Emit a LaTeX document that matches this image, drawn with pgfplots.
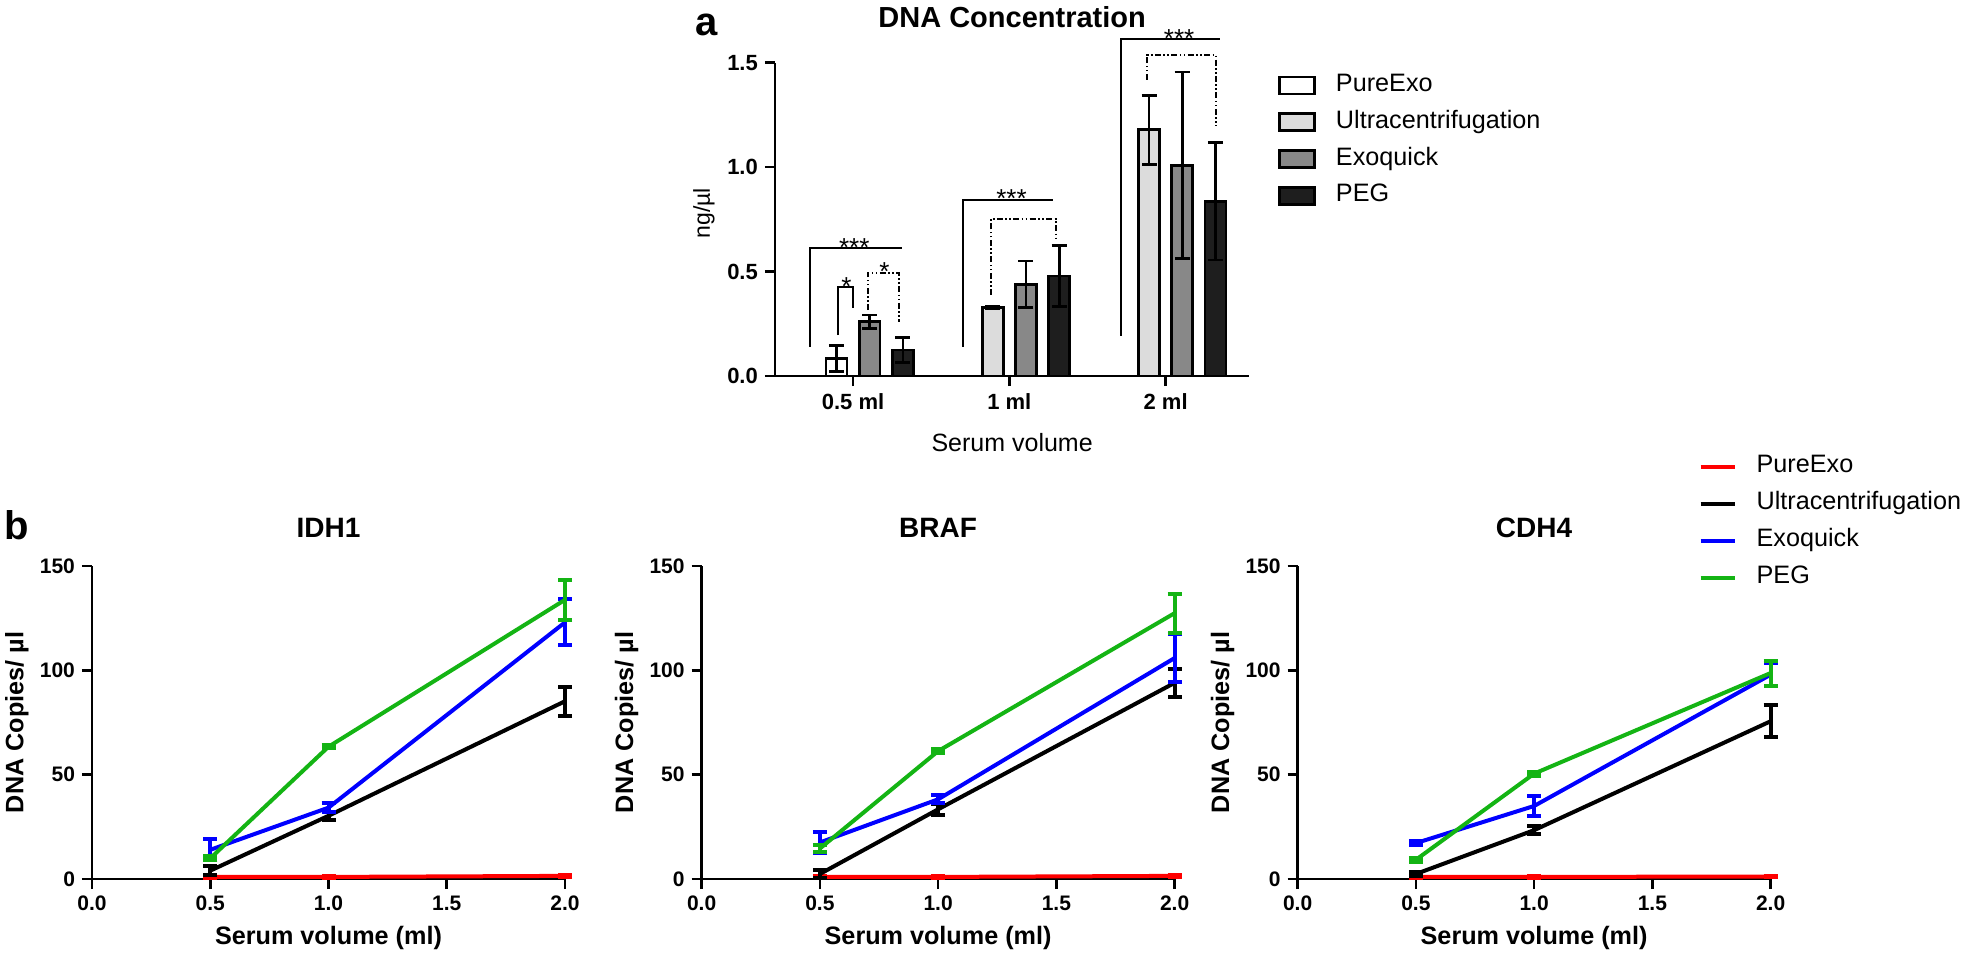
\documentclass[border=0pt]{standalone}
\usepackage{fontspec}
\setmainfont{Liberation Sans}
\usepackage{pgfplots}
\pgfplotsset{compat=1.18}

\definecolor{ucgray}{HTML}{DCDCDC}
\definecolor{exgray}{HTML}{888888}
\definecolor{pegblk}{HTML}{1E1E1E}
\definecolor{gpgreen}{RGB}{20,180,20}

\tikzset{
  star/.style={anchor=base, yshift=-4pt, inner sep=0pt, font=\fontsize{13}{13}\selectfont},
  dd/.style={line width=1pt, dash pattern=on 3pt off 1.2pt on 0.8pt off 1.2pt on 0.8pt off 1.2pt},
}

\pgfplotsset{
  gp/.style={
    scale only axis, clip=false,
    axis x line*=bottom, axis y line*=left,
    axis line style={line width=1.35pt},
    tick align=outside, major tick length=5pt,
    every tick/.style={line width=1.35pt, black},
    /pgf/number format/assume math mode=true,
  },
  bar/.style={ybar, bar shift=0pt, bar width=10.4pt, draw=black, fill=#1, line width=1.35pt,
    error bars/y dir=both, error bars/y explicit,
    error bars/error bar style={line width=1.35pt, black},
    error bars/error mark options={rotate=90, line width=1.35pt, mark size=3.75pt, black}},
  ln/.style={color=#1, line width=2pt, mark=none,
    error bars/y dir=both, error bars/y explicit,
    error bars/error bar style={line width=2pt, color=#1},
    error bars/error mark options={rotate=90, line width=2pt, mark size=3.5pt, color=#1}},
  bot/.style={gp, width=236.5pt, height=156.5pt,
    xmin=0, xmax=2, ymin=0, ymax=150,
    xtick={0,0.5,1,1.5,2}, ytick={0,50,100,150},
    x tick label style={/pgf/number format/.cd,fixed,fixed zerofill,precision=1,/tikz/.cd},
    tick label style={font=\fontsize{10.5}{12}\selectfont\bfseries},
    xlabel={Serum volume (ml)}, ylabel={DNA Copies/ µl},
    label style={font=\fontsize{12.6}{14}\selectfont\bfseries},
    title style={font=\fontsize{14}{16}\selectfont\bfseries, at={(axis description cs:0.5,1.083)}, anchor=center},
    xlabel style={at={(axis description cs:0.5,-0.1885)}, anchor=center},
    ylabel style={at={(axis description cs:-0.1586,0.5)}, anchor=center},
  },
}

\begin{document}
\begin{tikzpicture}
\useasboundingbox (0,0) rectangle (980.5pt,-477.5pt);

\node[font=\fontsize{20}{20}\selectfont\bfseries] at (353.35pt,-12.5pt) {a};
\node[font=\fontsize{20}{20}\selectfont\bfseries] at (8.5pt,-262.5pt) {b};

% panel a
\begin{axis}[gp, at={(387.45pt,-188pt)}, anchor=south west,
  width=237.25pt, height=156.65pt,
  xmin=-0.5, xmax=2.536, ymin=0, ymax=1.5,
  xtick={0,1,2}, xticklabels={0.5 ml,1 ml,2 ml},
  ytick={0,0.5,1,1.5},
  y tick label style={/pgf/number format/.cd,fixed,fixed zerofill,precision=1,/tikz/.cd},
  tick label style={font=\fontsize{11}{13}\selectfont\bfseries},
  title={DNA Concentration},
  title style={font=\fontsize{14.5}{16}\selectfont\bfseries, at={(axis description cs:0.5,1.1085)}, anchor=center},
  xlabel={Serum volume},
  xlabel style={font=\fontsize{12.5}{14}\selectfont, at={(axis description cs:0.5,-0.2139)}, anchor=center},
  ylabel={ng/µl},
  ylabel style={font=\fontsize{11.5}{13}\selectfont, at={(axis description cs:-0.1496,0.52)}, anchor=center},
  legend image code/.code={\draw[#1, line width=1.35pt] (0pt,-4.25pt) rectangle (17.5pt,4.25pt);},
  legend style={at={(axis description cs:1.060,0.967)}, anchor=north west, draw=none, fill=none,
    inner sep=0pt, row sep=6.4pt, column sep=10pt,
    font=\fontsize{12.6}{14}\selectfont,
    nodes={inner sep=0pt, text height=9pt, text depth=3pt}},
  legend cell align=left,
]
\addplot[bar=white] coordinates {(-0.106,0.083) +- (0,0.062)};
\addplot[bar=ucgray] coordinates {(0.894,0.329) +- (0,0.006) (1.894,1.179) +- (0,0.165)};
\addplot[bar=exgray] coordinates {(0.106,0.26) +- (0,0.032) (1.106,0.439) +- (0,0.112) (2.106,1.008) +- (0,0.447)};
\addplot[bar=pegblk] coordinates {(0.319,0.124) +- (0,0.06) (1.319,0.479) +- (0,0.146) (2.319,0.837) +- (0,0.281)};
\legend{PureExo,Ultracentrifugation,Exoquick,PEG}

% significance brackets
\draw[line width=1pt] (-0.278,0.141) |- (0.311,0.612);
\node[star] at (0.008,0.612) {***};
\draw[line width=1pt] (-0.099,0.196) |- (0.0025,0.425) -- (0.0025,0.324);
\node[star] at (-0.043,0.425) {*};
\draw[dd] (0.096,0.316) |- (0.293,0.495) -- (0.293,0.260);
\node[star] at (0.2,0.495) {*};
\draw[line width=1pt] (0.703,0.141) |- (1.277,0.843);
\node[star] at (1.014,0.843) {***};
\draw[dd] (0.885,0.388) |- (1.297,0.754) -- (1.297,0.660);
\draw[line width=1pt] (1.714,0.192) |- (2.346,1.613);
\node[star] at (2.086,1.613) {***};
\draw[dd] (1.881,1.419) |- (2.321,1.538) -- (2.321,1.198);
\end{axis}

% panel b: IDH1
\begin{axis}[bot, at={(46pt,-439.5pt)}, anchor=south west, title={IDH1}]
\addplot[ln=red] coordinates {(0.5,1.0) +- (0,0.3) (1,1.0) +- (0,0.3) (2,1.5) +- (0,0.5)};
\addplot[ln=black] coordinates {(0.5,4.0) +- (0,2) (1,30.3) +- (0,2) (2,85.2) +- (0,7)};
\addplot[ln=blue] coordinates {(0.5,14) +- (0,5) (1,34.2) +- (0,2) (2,123) +- (0,11)};
\addplot[ln=gpgreen] coordinates {(0.5,9.9) +- (0,1) (1,63.4) +- (0,0.8) (2,133.8) +- (0,9.7)};
\end{axis}

% BRAF
\begin{axis}[bot, at={(350.8pt,-439.5pt)}, anchor=south west, title={BRAF}]
\addplot[ln=red] coordinates {(0.5,1.0) +- (0,0.3) (1,1.0) +- (0,0.3) (2,1.5) +- (0,0.5)};
\addplot[ln=black] coordinates {(0.5,2.4) +- (0,2) (1,33.4) +- (0,2.5) (2,94) +- (0,6.7)};
\addplot[ln=blue] coordinates {(0.5,17.5) +- (0,4.8) (1,38.2) +- (0,2) (2,105.9) +- (0,11.3)};
\addplot[ln=gpgreen] coordinates {(0.5,14.6) +- (0,1.5) (1,61.3) +- (0,1) (2,127.4) +- (0,9.4)};
\end{axis}

% CDH4
\begin{axis}[bot, at={(648.8pt,-439.5pt)}, anchor=south west, title={CDH4},
  legend image code/.code={\draw[#1] (0pt,0pt) -- (17pt,0pt);},
  legend style={at={(axis description cs:0.847,1.357)}, anchor=north west, draw=none, fill=none,
    inner sep=0pt, row sep=6.5pt, column sep=10pt,
    font=\fontsize{12.6}{14}\selectfont,
    nodes={inner sep=0pt, text height=9pt, text depth=3pt}},
  legend cell align=left,
]
\addplot[ln=red] coordinates {(0.5,1.0) +- (0,0.3) (1,1.0) +- (0,0.3) (2,1.2) +- (0,0.3)};
\addplot[ln=black] coordinates {(0.5,2.4) +- (0,1) (1,23.4) +- (0,2) (2,75.6) +- (0,7.6)};
\addplot[ln=blue] coordinates {(0.5,17.2) +- (0,1) (1,35) +- (0,4.6) (2,97.9) +- (0,5.5)};
\addplot[ln=gpgreen] coordinates {(0.5,9.2) +- (0,1) (1,50.5) +- (0,1) (2,98.7) +- (0,6)};
\legend{PureExo,Ultracentrifugation,Exoquick,PEG}
\end{axis}
\end{tikzpicture}
\end{document}
